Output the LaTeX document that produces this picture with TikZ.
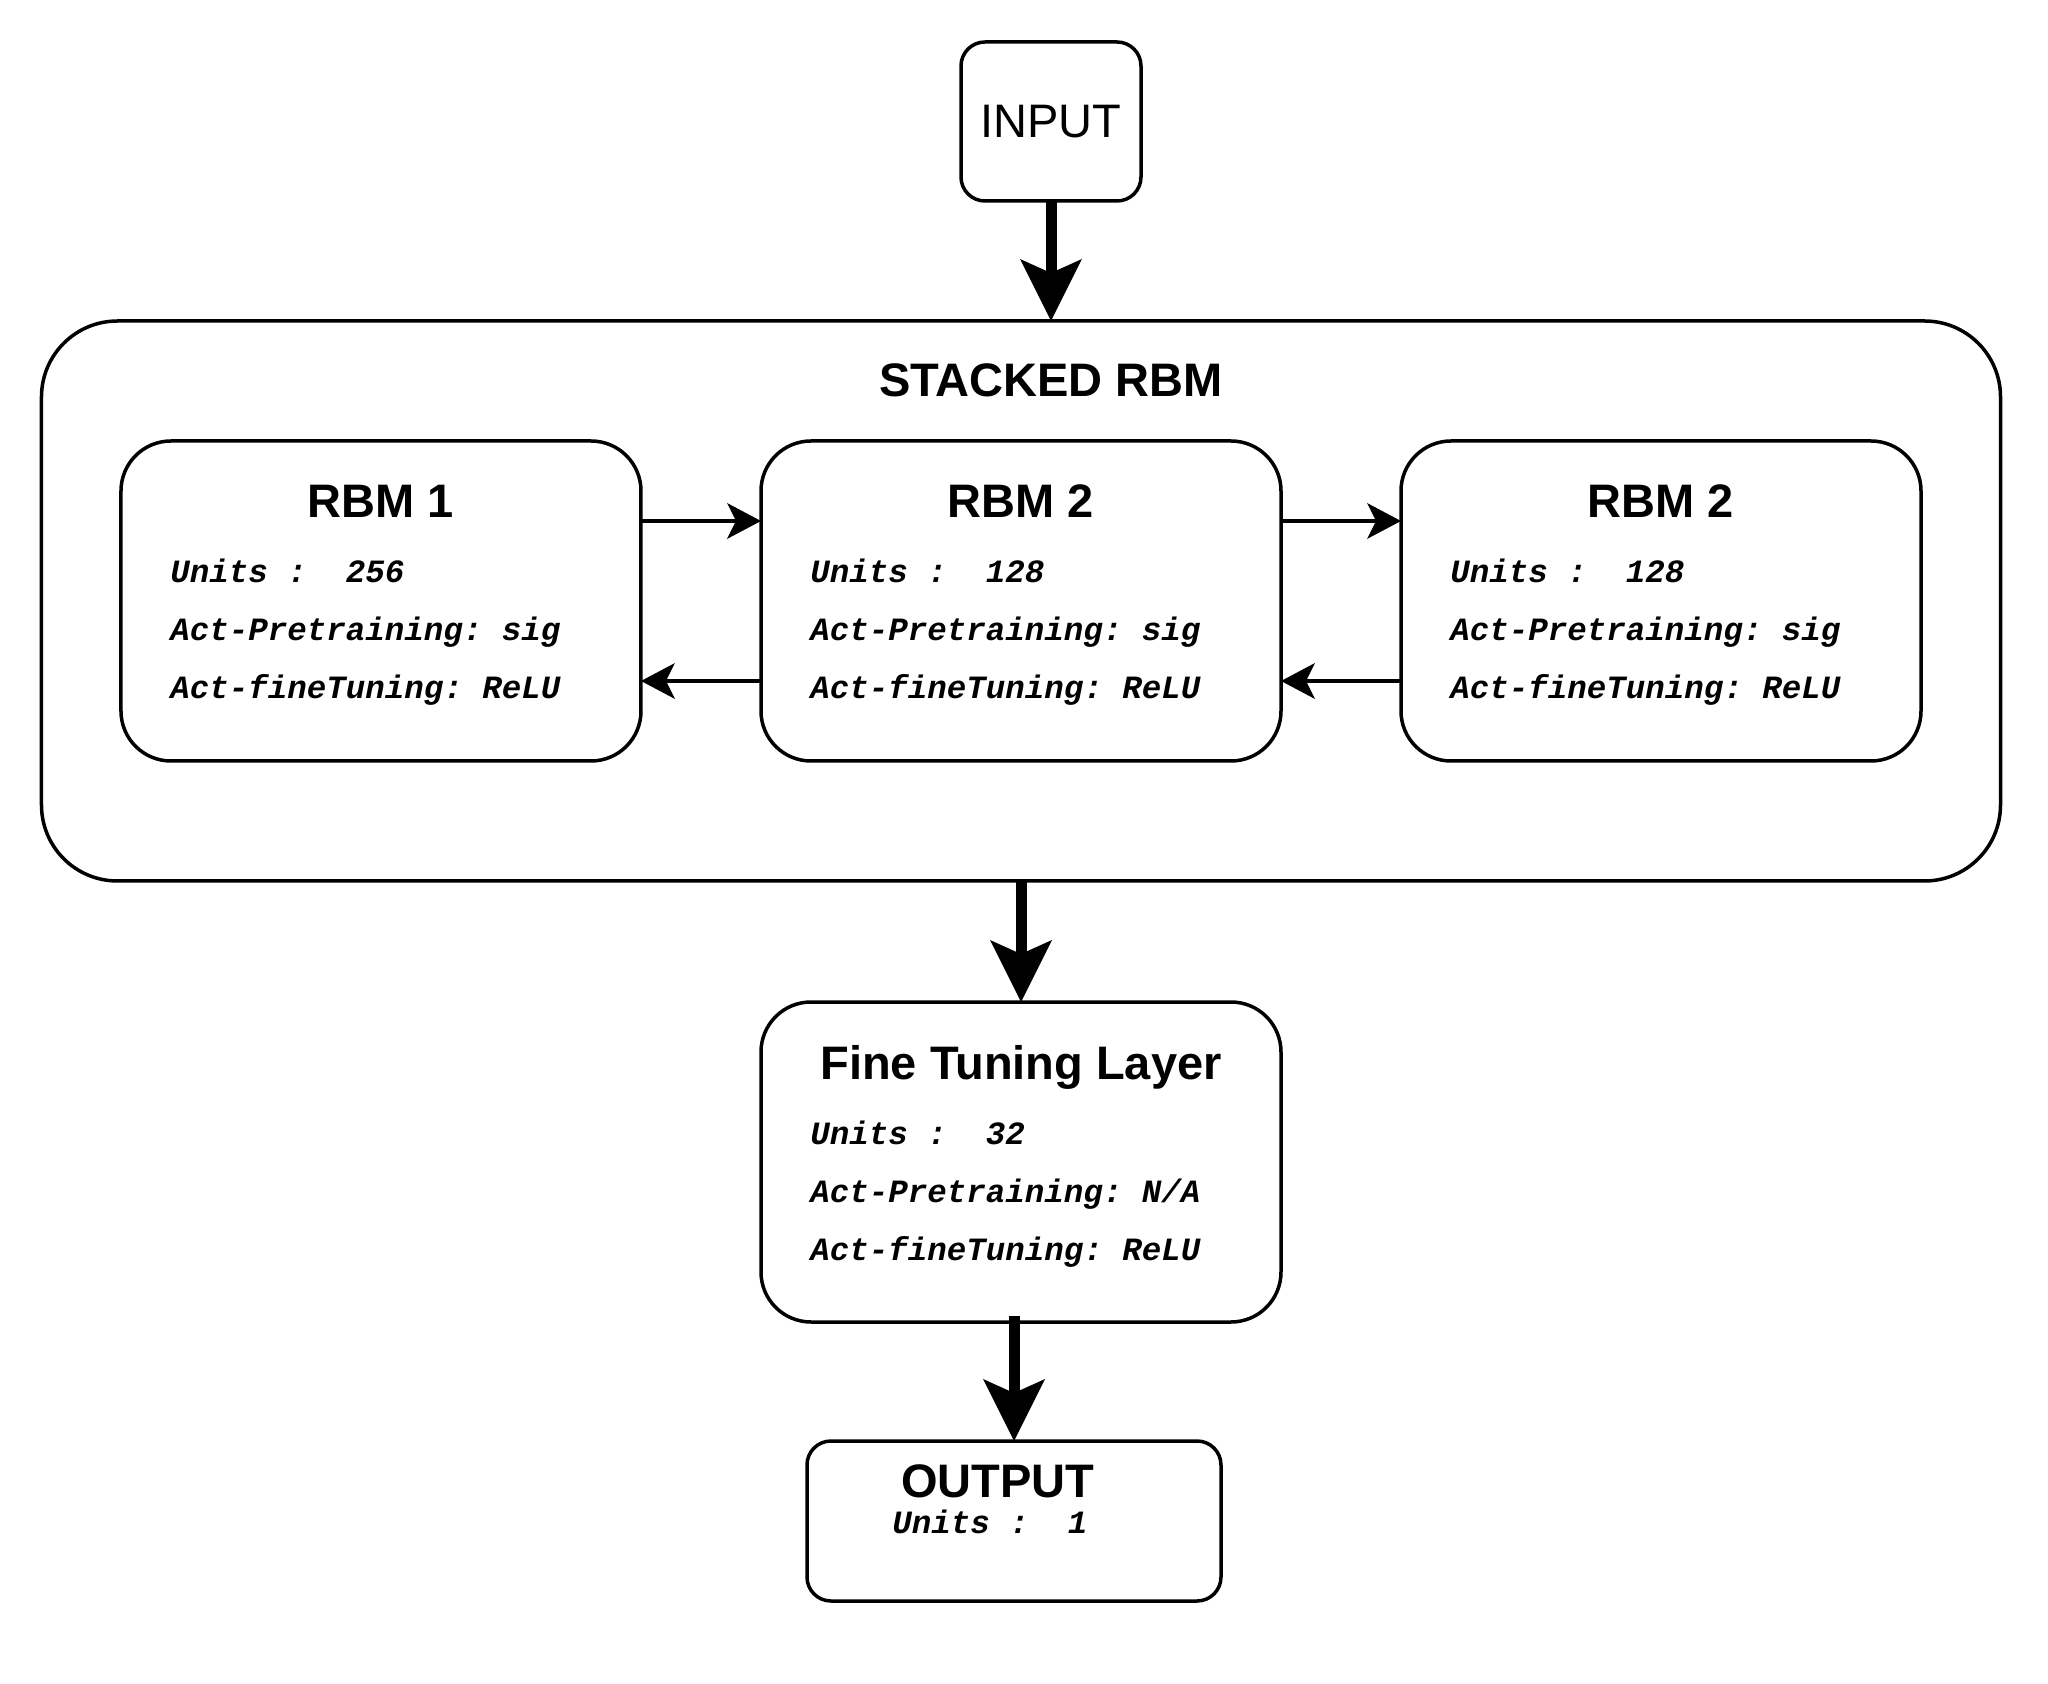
\documentclass[tikz,border=0pt]{standalone}
\usepackage{fontspec}
\setmainfont{Liberation Sans}
\setmonofont{Liberation Mono}
\usetikzlibrary{positioning, fit, arrows.meta}
\frenchspacing

\begin{document}
\begin{tikzpicture}[
	rbmbox/.style={rectangle, draw, line width=1.75pt, rounded corners=25pt, minimum width=260pt, minimum height=160pt, inner sep=0pt, outer sep=0pt},
	iobox/.style={rectangle, draw, line width=1.75pt, rounded corners=12pt, inner sep=0pt, outer sep=0pt},
	titletext/.style={font=\fontsize{23.5}{28}\selectfont\bfseries, inner sep=0pt},
	bodytext/.style={font=\fontsize{16.25}{29}\ttfamily\bfseries\itshape, align=left, inner sep=0pt},
	bigarrow/.style={line width=5.5pt, -{Stealth[length=31pt, width=31pt, inset=7pt, line width=0pt]}},
	thinarrow/.style={line width=1.75pt, -{Stealth[length=17pt, width=18pt, inset=4.5pt, line width=0pt]}}
]

\path[use as bounding box, fill=white] (-510.5pt,-541.5pt) rectangle (513.5pt,300.5pt);

\node[rbmbox] (rbmb) {};
\node[rbmbox, left=60pt of rbmb] (rbma) {};
\node[rbmbox, right=60pt of rbmb] (rbmc) {};
\node[fit=(rbma) (rbmc), draw, line width=1.75pt, rounded corners=38pt, inner xsep=39.75pt, inner ysep=60pt, outer sep=0pt] (stacked) {};
\node[titletext, below=38pt of stacked.north, anchor=base, xshift=15pt] (stacked-title) {STACKED RBM};
\node[iobox, minimum width=90pt, minimum height=79.5pt, font=\fontsize{23.5}{28}\selectfont, above=60pt of stacked.north, xshift=15pt] (input) {INPUT};
\node[rbmbox, below=60.5pt of stacked] (fine) {};
\node[iobox, minimum width=207pt, minimum height=80pt, below=59.5pt of fine, xshift=-3.5pt] (output) {};

\foreach \b/\t in {rbma/RBM 1, rbmb/RBM 2, rbmc/RBM 2, fine/Fine Tuning Layer}
	\node[titletext, below=38.5pt of \b.north, anchor=base] (\b-title) {\t};

\foreach \b/\u/\p in {rbma/256/sig, rbmb/128/sig, rbmc/128/sig, fine/32/{N/A}}
	\node[bodytext, below right=129pt and 24.5pt of \b.north west, anchor=base west] (\b-body) {Units :\ \ \u\\Act-Pretraining: \p\\Act-fineTuning: ReLU};

\node[titletext, below=28pt of output.north, anchor=base, xshift=-8pt] (output-title) {OUTPUT};
\node[bodytext, below right=46pt and 42.5pt of output.north west, anchor=base west] (output-body) {Units :\ \ 1};

\draw[bigarrow] (input.south) -- (input.south |- stacked.north);
\draw[bigarrow] (stacked.south) -- (fine.north);
\draw[bigarrow] (output.north |- fine.south) ++(0,3pt) -- (output.north);

\foreach \a/\b in {rbma/rbmb, rbmb/rbmc} {
	\draw[thinarrow] ([yshift=40pt]\a.east) -- ([yshift=40pt]\b.west);
	\draw[thinarrow] ([yshift=-40pt]\b.west) -- ([yshift=-40pt]\a.east);
}

\end{tikzpicture}
\end{document}
